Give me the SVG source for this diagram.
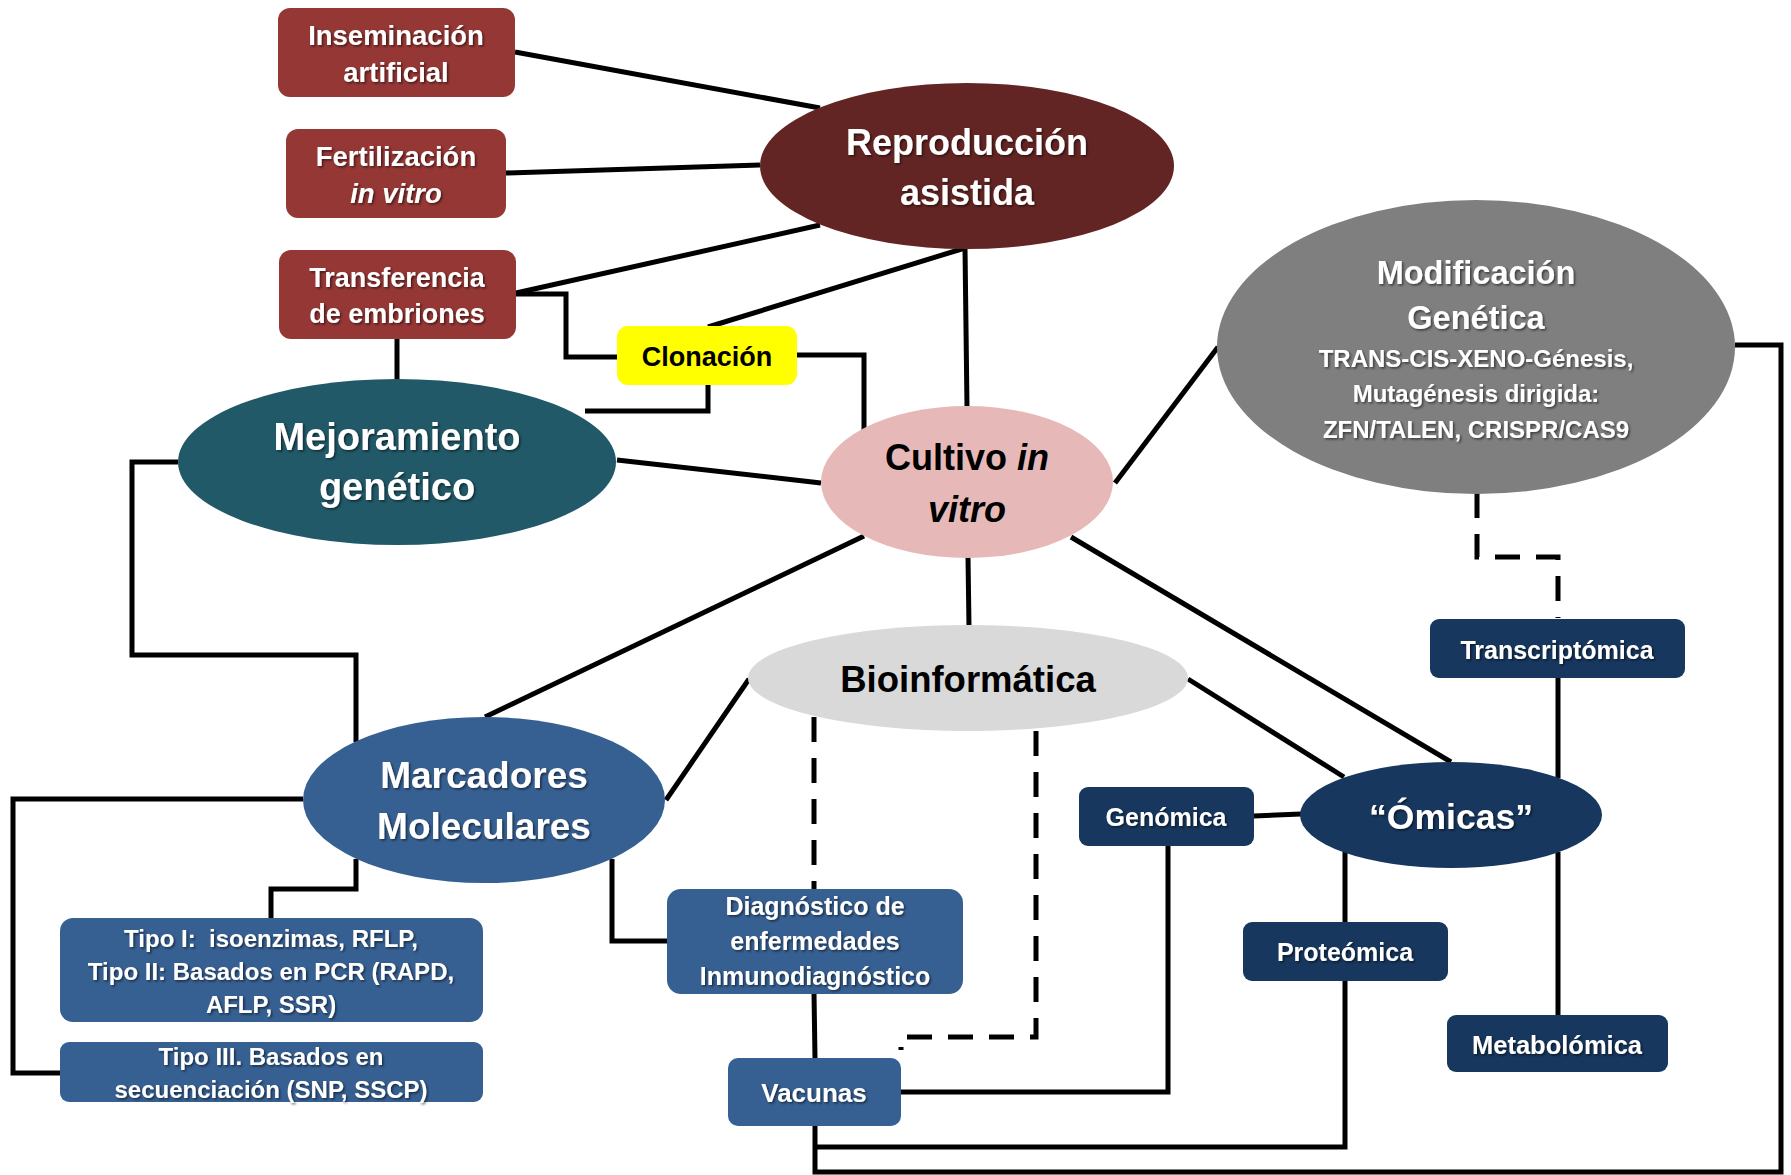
<svg xmlns="http://www.w3.org/2000/svg" width="1791" height="1175" viewBox="0 0 1791 1175">
<defs>
<filter id="sh" x="-10%" y="-30%" width="120%" height="160%"><feDropShadow dx="1.5" dy="1.5" stdDeviation="1.2" flood-color="#000" flood-opacity="0.55"/></filter>
</defs>
<style>
text{font-family:"Liberation Sans",Arial,sans-serif;font-weight:bold;text-anchor:middle}
.w{fill:#fff;filter:url(#sh)}
.k{fill:#000}
.c{fill:none;stroke:#000;stroke-width:5;stroke-linejoin:miter}
.d{fill:none;stroke:#000;stroke-width:5;stroke-dasharray:25 16}
.maroon{fill:#953735}
.blue{fill:#376092}
.navy{fill:#17375E}
</style>
<rect width="1791" height="1175" fill="#fff"/>
<g id="connectors">
<line class="c" x1="515" y1="52" x2="820" y2="108"/>
<line class="c" x1="506" y1="173" x2="760" y2="165"/>
<line class="c" x1="516" y1="293" x2="820" y2="225"/>
<path class="c" d="M516,294 H566 V357 H617"/>
<line class="c" x1="397" y1="339" x2="397" y2="380"/>
<line class="c" x1="708" y1="327" x2="965" y2="248"/>
<line class="c" x1="965" y1="248" x2="967" y2="408"/>
<path class="c" d="M797,355 H864 V431"/>
<path class="c" d="M708,385 V411 H585"/>
<line class="c" x1="617" y1="460" x2="821" y2="483"/>
<path class="c" d="M178,462 H132 V655 H356 V742"/>
<line class="c" x1="864" y1="536" x2="485" y2="717"/>
<line class="c" x1="968" y1="557" x2="969" y2="627"/>
<line class="c" x1="749" y1="679" x2="666" y2="800"/>
<line class="c" x1="1188" y1="679" x2="1344" y2="777"/>
<line class="c" x1="1071" y1="537" x2="1451" y2="762"/>
<line class="c" x1="1115" y1="483" x2="1218" y2="347"/>
<path class="c" d="M1735,345 H1781 V1172 H815 V1126"/>
<line class="c" x1="1345" y1="852" x2="1345" y2="922"/>
<path class="c" d="M1345,981 V1147 H815"/>
<line class="c" x1="1254" y1="816" x2="1301" y2="814"/>
<path class="c" d="M1168,846 V1092 H901"/>
<line class="c" x1="1558" y1="678" x2="1558" y2="778"/>
<line class="c" x1="1558" y1="852" x2="1558" y2="1015"/>
<path class="d" d="M1477,493 V557 H1558 V618"/>
<line class="d" x1="814" y1="717" x2="814" y2="889"/>
<line class="c" x1="814" y1="993" x2="815" y2="1058"/>
<path class="d" d="M1036,731 V1037 H901 V1050"/>
<path class="c" d="M356,859 V889 H271 V918"/>
<path class="c" d="M303,799 H13 V1073 H60"/>
<path class="c" d="M612,859 V941 H667"/>
</g>
<g id="n-inseminacion">
<rect class="maroon" x="278" y="8" width="237" height="89" rx="12"/>
<text class="w" x="396" y="45" font-size="27.5">Inseminación</text>
<text class="w" x="396" y="82" font-size="27.5">artificial</text>
</g>
<g id="n-fertilizacion">
<rect class="maroon" x="286" y="129" width="220" height="89" rx="12"/>
<text class="w" x="396" y="166" font-size="27.5">Fertilización</text>
<text class="w" x="396" y="203" font-size="27.5" font-style="italic">in vitro</text>
</g>
<g id="n-transferencia">
<rect class="maroon" x="279" y="250" width="237" height="89" rx="12"/>
<text class="w" x="397" y="287" font-size="27">Transferencia</text>
<text class="w" x="397" y="323" font-size="27">de embriones</text>
</g>
<g id="n-clonacion">
<rect x="617" y="326" width="180" height="59" rx="11" fill="#FFFF00"/>
<text class="k" x="707" y="366" font-size="27">Clonación</text>
</g>
<g id="n-reproduccion">
<ellipse cx="967" cy="166" rx="207" ry="83" fill="#632523"/>
<text class="w" x="967" y="155" font-size="36">Reproducción</text>
<text class="w" x="967" y="205" font-size="36">asistida</text>
</g>
<g id="n-mejoramiento">
<ellipse cx="397" cy="462" rx="219" ry="83" fill="#215968"/>
<text class="w" x="397" y="450" font-size="38">Mejoramiento</text>
<text class="w" x="397" y="500" font-size="38">genético</text>
</g>
<g id="n-cultivo">
<ellipse cx="967" cy="482" rx="146" ry="76" fill="#E6B9B8"/>
<text class="k" x="967" y="470" font-size="36">Cultivo <tspan font-style="italic">in</tspan></text>
<text class="k" x="967" y="522" font-size="36" font-style="italic">vitro</text>
</g>
<g id="n-modificacion">
<ellipse cx="1476" cy="347" rx="259" ry="147" fill="#7F7F7F"/>
<text class="w" x="1476" y="284" font-size="32.5">Modificación</text>
<text class="w" x="1476" y="329" font-size="32.5">Genética</text>
<text class="w" x="1476" y="367" font-size="24">TRANS-CIS-XENO-Génesis,</text>
<text class="w" x="1476" y="402" font-size="24">Mutagénesis dirigida:</text>
<text class="w" x="1476" y="438" font-size="24">ZFN/TALEN, CRISPR/CAS9</text>
</g>
<g id="n-bioinformatica">
<ellipse cx="968" cy="678" rx="220" ry="53" fill="#D9D9D9"/>
<text class="k" x="968" y="692" font-size="36.5">Bioinformática</text>
</g>
<g id="n-marcadores">
<ellipse cx="484" cy="800" rx="181" ry="83" fill="#376092"/>
<text class="w" x="484" y="788" font-size="37">Marcadores</text>
<text class="w" x="484" y="839" font-size="37">Moleculares</text>
</g>
<g id="n-omicas">
<ellipse cx="1451" cy="815" rx="151" ry="53" fill="#17375E"/>
<text class="w" x="1451" y="829" font-size="35.5">“Ómicas”</text>
</g>
<g id="n-tipo12">
<rect class="blue" x="60" y="918" width="423" height="104" rx="13"/>
<text class="w" x="271" y="947" font-size="24" xml:space="preserve">Tipo I:  isoenzimas, RFLP,</text>
<text class="w" x="271" y="980" font-size="24">Tipo II: Basados en PCR (RAPD,</text>
<text class="w" x="271" y="1013" font-size="24">AFLP, SSR)</text>
</g>
<g id="n-tipo3">
<rect class="blue" x="60" y="1042" width="423" height="60" rx="9"/>
<text class="w" x="271" y="1065" font-size="24">Tipo III. Basados en</text>
<text class="w" x="271" y="1098" font-size="24">secuenciación (SNP, SSCP)</text>
</g>
<g id="n-diagnostico">
<rect class="blue" x="667" y="889" width="296" height="105" rx="14"/>
<text class="w" x="815" y="915" font-size="25">Diagnóstico de</text>
<text class="w" x="815" y="950" font-size="25">enfermedades</text>
<text class="w" x="815" y="985" font-size="25">Inmunodiagnóstico</text>
</g>
<g id="n-vacunas">
<rect class="blue" x="728" y="1058" width="173" height="68" rx="10"/>
<text class="w" x="814" y="1102" font-size="26">Vacunas</text>
</g>
<g id="n-genomica">
<rect class="navy" x="1079" y="787" width="175" height="59" rx="9"/>
<text class="w" x="1166" y="826" font-size="25">Genómica</text>
</g>
<g id="n-proteomica">
<rect class="navy" x="1243" y="922" width="205" height="59" rx="9"/>
<text class="w" x="1345" y="961" font-size="25">Proteómica</text>
</g>
<g id="n-transcriptomica">
<rect class="navy" x="1430" y="619" width="255" height="59" rx="9"/>
<text class="w" x="1557" y="659" font-size="25">Transcriptómica</text>
</g>
<g id="n-metabolomica">
<rect class="navy" x="1447" y="1015" width="221" height="57" rx="9"/>
<text class="w" x="1557" y="1054" font-size="25.5">Metabolómica</text>
</g>
</svg>
